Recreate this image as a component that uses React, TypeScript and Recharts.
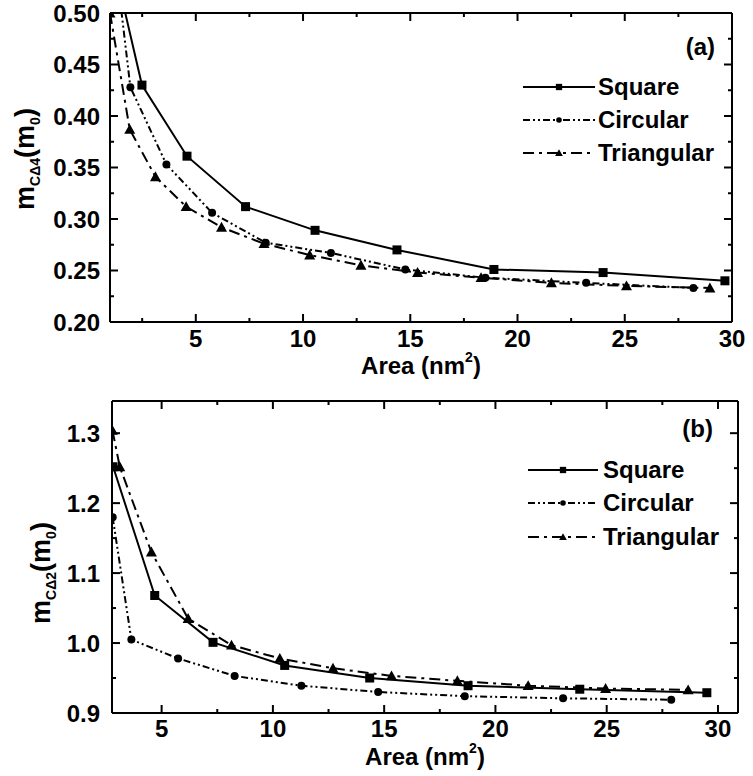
import React from 'react';
import { LineChart, Line, XAxis, YAxis, Legend, Label } from 'recharts';

const FONT = "'Liberation Sans', Arial, sans-serif";

// panel (a): m_CΔ4 vs area
const squareA = [
  { x: 1.2, y: 0.546 }, { x: 2.49, y: 0.43 }, { x: 4.59, y: 0.361 }, { x: 7.32, y: 0.312 },
  { x: 10.56, y: 0.289 }, { x: 14.38, y: 0.27 }, { x: 18.9, y: 0.251 }, { x: 23.99, y: 0.248 },
  { x: 29.67, y: 0.24 },
];
const circularA = [
  { x: 1.2, y: 0.56 }, { x: 1.95, y: 0.428 }, { x: 3.63, y: 0.353 }, { x: 5.76, y: 0.306 },
  { x: 8.26, y: 0.277 }, { x: 11.3, y: 0.267 }, { x: 14.77, y: 0.251 }, { x: 18.5, y: 0.243 },
  { x: 23.2, y: 0.238 }, { x: 28.2, y: 0.233 },
];
const triangularA = [
  { x: 1.0, y: 0.5 }, { x: 1.92, y: 0.387 }, { x: 3.12, y: 0.341 }, { x: 4.55, y: 0.312 },
  { x: 6.2, y: 0.292 }, { x: 8.18, y: 0.276 }, { x: 10.31, y: 0.265 }, { x: 12.7, y: 0.255 },
  { x: 15.34, y: 0.248 }, { x: 18.3, y: 0.243 }, { x: 21.58, y: 0.238 }, { x: 25.08, y: 0.235 },
  { x: 28.97, y: 0.233 },
];

// panel (b): m_CΔ2 vs area
const squareB = [
  { x: 2.82, y: 1.252 }, { x: 4.69, y: 1.068 }, { x: 7.31, y: 1.001 }, { x: 10.53, y: 0.968 },
  { x: 14.35, y: 0.95 }, { x: 18.77, y: 0.939 }, { x: 23.79, y: 0.934 }, { x: 29.5, y: 0.929 },
];
const circularB = [
  { x: 2.8, y: 1.18 }, { x: 3.64, y: 1.005 }, { x: 5.74, y: 0.978 }, { x: 8.28, y: 0.953 },
  { x: 11.28, y: 0.939 }, { x: 14.73, y: 0.93 }, { x: 18.62, y: 0.924 }, { x: 23.04, y: 0.921 },
  { x: 27.9, y: 0.919 },
];
const triangularB = [
  { x: 2.79, y: 1.304 }, { x: 3.12, y: 1.252 }, { x: 4.54, y: 1.13 }, { x: 6.19, y: 1.035 },
  { x: 8.14, y: 0.997 }, { x: 10.31, y: 0.978 }, { x: 12.7, y: 0.964 }, { x: 15.33, y: 0.953 },
  { x: 18.29, y: 0.946 }, { x: 21.47, y: 0.939 }, { x: 24.95, y: 0.935 }, { x: 28.66, y: 0.933 },
];

const seriesNames = ['Square', 'Circular', 'Triangular'];
const seriesShapes = ['square', 'circle', 'triangle'];
const seriesDash = ['', '7 3 2 3 2 3', '11 5 3 5'];

// ticks (majors get labels)
const ticksXA = [2.5, 5, 7.5, 10, 12.5, 15, 17.5, 20, 22.5, 25, 27.5, 30];
const ticksYA = [0.2, 0.225, 0.25, 0.275, 0.3, 0.325, 0.35, 0.375, 0.4, 0.425, 0.45, 0.475, 0.5];
const ticksXB = [5, 7.5, 10, 12.5, 15, 17.5, 20, 22.5, 25, 27.5, 30];
const ticksYB = [0.9, 0.95, 1.0, 1.05, 1.1, 1.15, 1.2, 1.25, 1.3];

const isMajor = (v: number, step: number) => Math.abs(v / step - Math.round(v / step)) < 1e-6;

const Marker = ({ cx, cy, shape, s = 1 }: any) => {
  if (cx == null || cy == null) return null;
  if (shape === 'square') return <rect x={cx - 4.5 * s} y={cy - 4.5 * s} width={9 * s} height={9 * s} fill="#000" />;
  if (shape === 'circle') return <circle cx={cx} cy={cy} r={4 * s} fill="#000" />;
  const h = 5.5 * s;
  return <polygon points={`${cx},${cy - h} ${cx - h},${cy + h * 0.8} ${cx + h},${cy + h * 0.8}`} fill="#000" />;
};

const tickText = { fontFamily: FONT, fontWeight: 700, fontSize: 24, fill: '#000' };

const makeTick = (side: string, step: number, fmt: (v: number) => string, off: number) => (p: any) => {
  const { x, y, payload } = p;
  const v = payload.value;
  const major = isMajor(v, step);
  const L = major ? 8 : 4;
  if (side === 'bottom')
    return (
      <g>
        <line x1={x} y1={y} x2={x} y2={y - L} stroke="#000" strokeWidth={2} />
        {major && <text x={x} y={y + off} textAnchor="middle" {...tickText}>{fmt(v)}</text>}
      </g>
    );
  if (side === 'top') return <line x1={x} y1={y} x2={x} y2={y + L} stroke="#000" strokeWidth={2} />;
  if (side === 'left')
    return (
      <g>
        <line x1={x} y1={y} x2={x + L} y2={y} stroke="#000" strokeWidth={2} />
        {major && <text x={x - off} y={y + 8.5} textAnchor="end" {...tickText}>{fmt(v)}</text>}
      </g>
    );
  return <line x1={x} y1={y} x2={x - L} y2={y} stroke="#000" strokeWidth={2} />;
};

const LegendBox = ({ rowH, lineW, gap }: any) => (
  <div style={{ fontFamily: FONT, fontWeight: 700, fontSize: 24, color: '#000' }}>
    {seriesNames.map((n, i) => (
      <div key={n} style={{ display: 'flex', alignItems: 'center', height: rowH }}>
        <svg width={lineW} height={12} style={{ display: 'block' }}>
          <line x1={0} x2={lineW} y1={6} y2={6} stroke="#000" strokeWidth={2} strokeDasharray={seriesDash[i] || undefined} />
          <Marker cx={lineW / 2} cy={6} shape={seriesShapes[i]} s={0.7} />
        </svg>
        <span style={{ marginLeft: gap, lineHeight: 1 }}>{n}</span>
      </div>
    ))}
  </div>
);

const Panel = ({ cfg }: any) => {
  const axisLine = { stroke: '#000', strokeWidth: 2 };
  return (
    <LineChart width={753} height={cfg.height} margin={cfg.margin} style={{ fontFamily: FONT }}>
      <XAxis xAxisId="b" type="number" dataKey="x" domain={cfg.xDomain} ticks={cfg.xTicks} interval={0}
        allowDataOverflow height={cfg.xAxisH} tickSize={0} tickMargin={0} tickLine={false} axisLine={axisLine}
        tick={makeTick('bottom', 5, (v) => String(v), cfg.xTickOff)}>
        <Label content={(p: any) => {
          const vb = p.viewBox;
          return (
            <text x={vb.x + vb.width / 2} y={vb.y + cfg.xLabelOff} textAnchor="middle" {...tickText}>
              Area (nm<tspan fontSize={14} dy={-12}>2</tspan><tspan dy={12}>)</tspan>
            </text>
          );
        }} />
      </XAxis>
      <XAxis xAxisId="t" orientation="top" type="number" dataKey="x" domain={cfg.xDomain} ticks={cfg.xTicks} interval={0}
        allowDataOverflow height={1} tickSize={0} tickMargin={0} tickLine={false} axisLine={axisLine}
        tick={makeTick('top', 5, String, 0)} />
      <YAxis yAxisId="l" type="number" domain={cfg.yDomain} ticks={cfg.yTicks} interval={0} allowDataOverflow
        width={cfg.yAxisW} tickSize={0} tickMargin={0} tickLine={false} axisLine={axisLine}
        tick={makeTick('left', cfg.yStep, cfg.yFmt, cfg.yTickOff)}>
        <Label content={(p: any) => {
          const vb = p.viewBox;
          const cx = cfg.yLabelX;
          const cy = vb.y + cfg.yLabelY;
          return (
            <text x={cx} y={cy} transform={`rotate(-90, ${cx}, ${cy})`} textAnchor="middle"
              fontFamily={FONT} fontWeight={700} fontSize={27} fill="#000">
              m<tspan fontSize={14} dy={6}>{cfg.sub}</tspan>
              <tspan dy={-6}>(m</tspan><tspan fontSize={14} dy={6}>0</tspan><tspan dy={-6}>)</tspan>
            </text>
          );
        }} />
      </YAxis>
      <YAxis yAxisId="r" orientation="right" type="number" domain={cfg.yDomain} ticks={cfg.yTicks} interval={0}
        allowDataOverflow width={1} tickSize={0} tickMargin={0} tickLine={false} axisLine={axisLine}
        tick={makeTick('right', cfg.yStep, String, 0)}>
        <Label content={(p: any) => {
          const vb = p.viewBox;
          return (
            <text x={vb.x - cfg.tagDx} y={vb.y + cfg.tagDy} textAnchor="end" {...tickText}>{cfg.tag}</text>
          );
        }} />
      </YAxis>
      <Legend layout="vertical" align="center" verticalAlign="middle"
        wrapperStyle={{ position: 'absolute', left: cfg.legend.left, top: cfg.legend.top, width: 240 }}
        content={() => <LegendBox rowH={cfg.legend.rowH} lineW={cfg.legend.lineW} gap={cfg.legend.gap} />} />
      {cfg.series.map((d: any[], i: number) => (
        <Line key={seriesNames[i]} xAxisId="b" yAxisId="l" data={d} dataKey="y" name={seriesNames[i]}
          type="linear" stroke="#000" strokeWidth={2} strokeDasharray={seriesDash[i] || undefined}
          isAnimationActive={false} legendType="none"
          dot={(p: any) => <Marker key={`${i}-${p.index}`} cx={p.cx} cy={p.cy} shape={seriesShapes[i]} />}
          activeDot={false} />
      ))}
    </LineChart>
  );
};

const panelA = {
  height: 380, margin: { top: 12, right: 20, bottom: 0, left: 0 },
  xDomain: [1, 30], xTicks: ticksXA, xAxisH: 58, xTickOff: 25, xLabelOff: 52,
  yDomain: [0.2, 0.5], yTicks: ticksYA, yStep: 0.05, yFmt: (v: number) => v.toFixed(2), yAxisW: 110, yTickOff: 10,
  yLabelX: 34, yLabelY: 146, sub: 'CΔ4', tag: '(a)', tagDx: 17, tagDy: 42,
  legend: { left: 523, top: 70, rowH: 33, lineW: 72, gap: 3 },
  series: [squareA, circularA, triangularA],
};

const panelB = {
  height: 396, margin: { top: 20, right: 14, bottom: 0, left: 0 },
  xDomain: [2.77, 30.9], xTicks: ticksXB, xAxisH: 63, xTickOff: 24, xLabelOff: 52,
  yDomain: [0.9, 1.346], yTicks: ticksYB, yStep: 0.1, yFmt: (v: number) => v.toFixed(1), yAxisW: 112, yTickOff: 12,
  yLabelX: 50, yLabelY: 172, sub: 'CΔ2', tag: '(b)', tagDx: 25, tagDy: 36,
  legend: { left: 528, top: 73, rowH: 33.5, lineW: 70, gap: 5 },
  series: [squareB, circularB, triangularB],
};

export default function App() {
  return (
    <div style={{ position: 'absolute', left: 0, top: 0, width: 753, height: 776, background: '#fff' }}>
      <div style={{ position: 'absolute', left: 0, top: 0 }}>
        <Panel cfg={panelA} />
      </div>
      <div style={{ position: 'absolute', left: 0, top: 380 }}>
        <Panel cfg={panelB} />
      </div>
    </div>
  );
}
